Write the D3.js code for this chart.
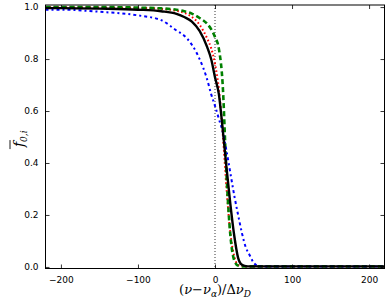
<!DOCTYPE html>
<html>
<head>
  <meta charset="utf-8">
  <script src="https://d3js.org/d3.v7.min.js"></script>
  <style>
    body { margin: 0; background: #fff; }
    svg { display: block; }
    .tick text { font-family: "DejaVu Sans", sans-serif; font-size: 9px; fill: #000; }
  </style>
</head>
<body>
  <div id="chart"></div>

  <script>
    // frequency offset grid, (nu - nu_a) / dnu_D
    const xs = [-220, -200, -150, -100, -70, -50, -40, -30, -20, -10, -5, 0, 5, 10, 15, 20, 25, 30, 35, 40, 45, 50, 55, 60, 80, 100, 150, 200, 220];

    const black = [0.996, 0.996, 0.994, 0.990, 0.984, 0.974, 0.962, 0.944, 0.908, 0.845, 0.800, 0.730, 0.665, 0.530, 0.380, 0.240, 0.120, 0.035, 0.008, 0.003, 0.002, 0.002, 0.002, 0.002, 0.002, 0.002, 0.002, 0.002, 0.002];
    const red   = [0.999, 0.999, 0.998, 0.997, 0.993, 0.986, 0.978, 0.962, 0.932, 0.878, 0.842, 0.782, 0.685, 0.515, 0.300, 0.130, 0.040, 0.008, 0.003, 0.002, 0.002, 0.002, 0.002, 0.002, 0.002, 0.002, 0.002, 0.002, 0.002];
    const green = [1.000, 1.000, 1.000, 0.998, 0.995, 0.990, 0.984, 0.975, 0.958, 0.935, 0.915, 0.885, 0.840, 0.700, 0.350, 0.120, 0.025, 0.005, 0.002, 0.002, 0.002, 0.002, 0.002, 0.002, 0.002, 0.002, 0.002, 0.002, 0.002];
    const blue  = [0.990, 0.990, 0.982, 0.968, 0.950, 0.910, 0.890, 0.855, 0.800, 0.720, 0.665, 0.620, 0.570, 0.520, 0.445, 0.360, 0.275, 0.200, 0.130, 0.075, 0.045, 0.017, 0.005, 0.002, 0.002, 0.002, 0.002, 0.002, 0.002];

    const xTicks = [-200, -100, 0, 100, 200];
    const yTicks = [0.0, 0.2, 0.4, 0.6, 0.8, 1.0];

    // drawing order: black solid ends up on top
    const series = [
      { values: red,   color: "#ff0000", width: 2.0, dash: "1.6,2.4" },
      { values: green, color: "#008000", width: 2.6, dash: "5,3" },
      { values: blue,  color: "#0000ff", width: 2.0, dash: "3,3,2,3" },
      { values: black, color: "#000000", width: 2.4, dash: null }
    ];

    const W = 390, H = 304;
    const margin = { top: 5, right: 5.5, bottom: 35.5, left: 45.5 };
    const w = W - margin.left - margin.right;
    const h = H - margin.top - margin.bottom;

    const svg = d3.select("#chart").append("svg")
      .attr("width", W)
      .attr("height", H);

    const g = svg.append("g")
      .attr("transform", `translate(${margin.left},${margin.top})`);

    const x = d3.scaleLinear().domain([-220, 220]).range([0, w]);
    const y = d3.scaleLinear().domain([-0.006, 1.008]).range([h, 0]);

    // clip lines to the frame
    g.append("clipPath").attr("id", "clip")
      .append("rect").attr("width", w).attr("height", h);

    const plot = g.append("g").attr("clip-path", "url(#clip)");

    // vertical dotted line at zero
    plot.append("line")
      .attr("x1", x(0)).attr("x2", x(0))
      .attr("y1", 0).attr("y2", h)
      .attr("stroke", "#000")
      .attr("stroke-width", 0.8)
      .attr("stroke-dasharray", "1,2");

    const line = d3.line()
      .x((d, i) => x(xs[i]))
      .y(d => y(d))
      .curve(d3.curveMonotoneX);

    series.forEach(s => {
      plot.append("path")
        .datum(s.values)
        .attr("d", line)
        .attr("fill", "none")
        .attr("stroke", s.color)
        .attr("stroke-width", s.width)
        .attr("stroke-dasharray", s.dash);
    });

    const fmtX = d => d < 0 ? "\u2212" + Math.abs(d) : String(d);

    // axes, ticks pointing inward like matplotlib
    const xb = g.append("g").attr("transform", `translate(0,${h})`)
      .call(d3.axisBottom(x).tickValues(xTicks).tickFormat(fmtX).tickSizeInner(-4).tickSizeOuter(0).tickPadding(8));
    const xt = g.append("g")
      .call(d3.axisTop(x).tickValues(xTicks).tickFormat("").tickSizeInner(-4).tickSizeOuter(0));
    const yl = g.append("g")
      .call(d3.axisLeft(y).tickValues(yTicks).tickFormat(d3.format(".1f")).tickSizeInner(-4).tickSizeOuter(0).tickPadding(7));
    const yr = g.append("g").attr("transform", `translate(${w},0)`)
      .call(d3.axisRight(y).tickValues(yTicks).tickFormat("").tickSizeInner(-4).tickSizeOuter(0));

    [xb, xt, yl, yr].forEach(a => {
      a.select(".domain").remove();
      a.selectAll(".tick line").attr("stroke", "#000").attr("stroke-width", 0.8);
    });

    // frame
    g.append("rect")
      .attr("width", w).attr("height", h)
      .attr("fill", "none")
      .attr("stroke", "#000")
      .attr("stroke-width", 1);

    // x label: (nu - nu_a) / Delta nu_D
    const xl = svg.append("text")
      .attr("x", margin.left + x(0))
      .attr("y", 294)
      .attr("text-anchor", "middle")
      .style("font-family", "'DejaVu Serif', serif")
      .style("font-size", "13px");
    xl.append("tspan").text("(");
    xl.append("tspan").style("font-style", "italic").text("\u03bd");
    xl.append("tspan").text("\u2212");
    xl.append("tspan").style("font-style", "italic").text("\u03bd");
    xl.append("tspan").style("font-style", "italic").style("font-size", "9px").attr("dy", 3).text("\u03b1");
    xl.append("tspan").attr("dy", -3).text(")/\u0394");
    xl.append("tspan").style("font-style", "italic").text("\u03bd");
    xl.append("tspan").style("font-style", "italic").style("font-size", "9px").attr("dy", 3).text("D");

    // y label: bar f_{0,i}
    const yg = svg.append("g")
      .attr("transform", `translate(24,${margin.top + h / 2 + 2}) rotate(-90)`);
    const ylab = yg.append("text")
      .attr("text-anchor", "middle")
      .style("font-family", "'DejaVu Serif', serif")
      .style("font-size", "14px");
    ylab.append("tspan").style("font-style", "italic").text("f");
    ylab.append("tspan").style("font-style", "italic").style("font-size", "9px").attr("dy", 3).text("0,i");
    // overbar drawn as a short rule above the f
    const bb = ylab.node().getBBox();
    yg.append("line")
      .attr("x1", bb.x - 1).attr("x2", bb.x + 8)
      .attr("y1", bb.y - 1).attr("y2", bb.y - 1)
      .attr("stroke", "#000")
      .attr("stroke-width", 0.9);
  </script>
</body>
</html>
